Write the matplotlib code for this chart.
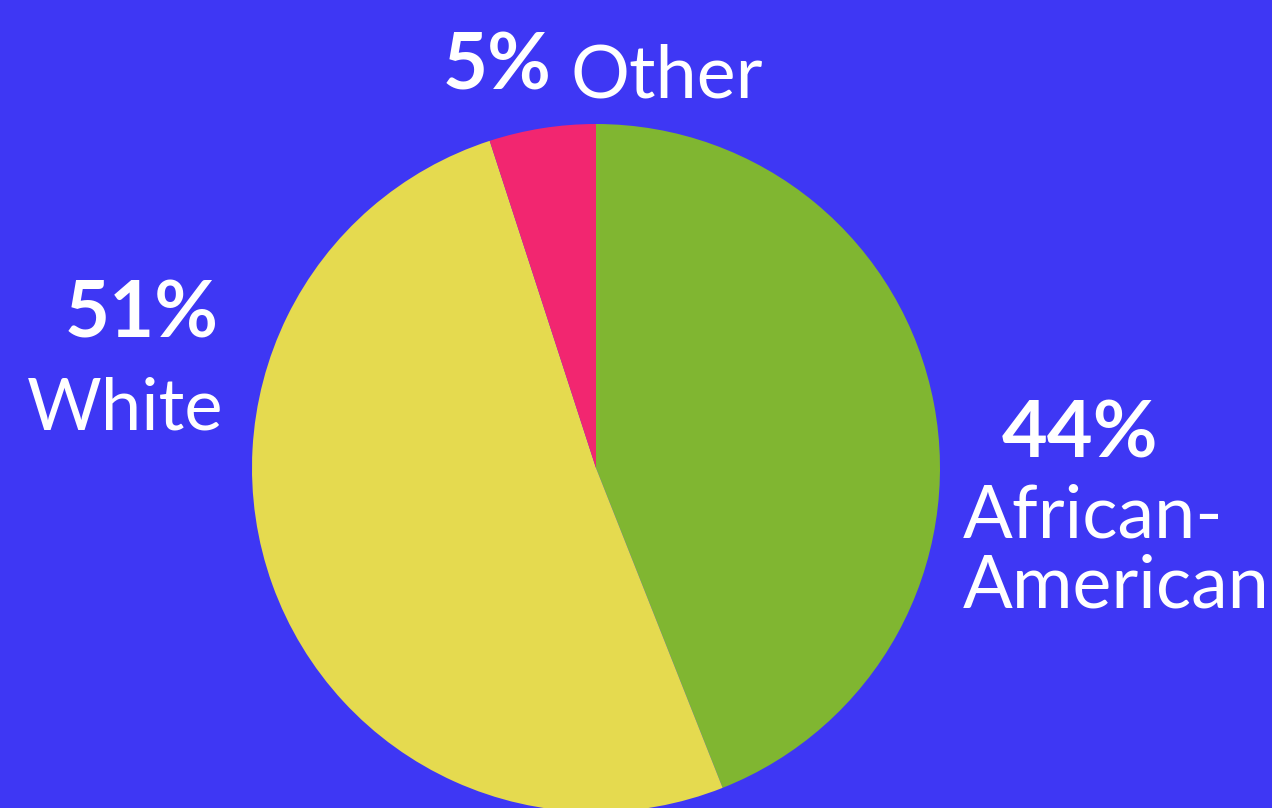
import matplotlib
matplotlib.use("Agg")
import matplotlib.pyplot as plt

# ── Data ──────────────────────────────────────────────────────────────────────
categories = ["African-American", "White", "Other"]
shares = [44, 51, 5]
pct_labels = ["44%", "51%", "5%"]
name_labels = ["African-\nAmerican", "White", "Other"]

BG = "#3E37F4"
COLORS = ["#80B631", "#E5DA4F", "#F22670"]
W, H = 1272, 808

fig = plt.figure(figsize=(W / 100, H / 100), dpi=100)
fig.patch.set_facecolor(BG)
ax = fig.add_axes([0, 0, 1, 1])
ax.set_facecolor(BG)

ax.pie(shares, colors=COLORS, startangle=90, counterclock=False,
       center=(596, H - 468), radius=344, frame=True,
       wedgeprops=dict(linewidth=0))
ax.set_xlim(0, W)
ax.set_ylim(0, H)
ax.set_aspect("equal")
ax.axis("off")

bold = dict(family="Lato", weight="bold", color="white")
reg = dict(family="Lato", color="white")

# Other
ax.text(443, H - 89, pct_labels[2], fontsize=56, ha="left", va="baseline", **bold)
ax.text(571, H - 97, name_labels[2], fontsize=53, ha="left", va="baseline", **reg)
# White
ax.text(219, H - 337, pct_labels[1], fontsize=56, ha="right", va="baseline", **bold)
ax.text(223, H - 429, name_labels[1], fontsize=52, ha="right", va="baseline", **reg)
# African-American
ax.text(1002, H - 457, pct_labels[0], fontsize=57, ha="left", va="baseline", **bold)
ax.text(963, H - 537, "African-", fontsize=53, ha="left", va="baseline", **reg)
ax.text(963, H - 608, "American", fontsize=53, ha="left", va="baseline", **reg)

fig.savefig("out.png", dpi=100, facecolor=BG)
